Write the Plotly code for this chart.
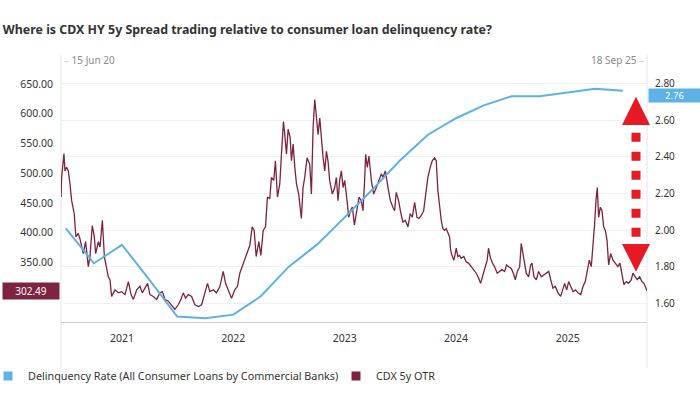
import pandas as pd
import plotly.graph_objects as go

# ---------------- data ----------------
delinq_dates = ["2020-07-01", "2020-10-01", "2021-01-01", "2021-04-01", "2021-07-01",
                "2021-10-01", "2022-01-01", "2022-04-01", "2022-07-01", "2022-10-01",
                "2023-01-01", "2023-04-01", "2023-07-01", "2023-10-01", "2024-01-01",
                "2024-04-01", "2024-07-01", "2024-10-01", "2025-01-01", "2025-04-01",
                "2025-07-01"]
delinq_values = [2.01, 1.82, 1.92, 1.73, 1.53, 1.52, 1.54, 1.64, 1.80, 1.92,
                 2.07, 2.22, 2.38, 2.52, 2.61, 2.68, 2.73, 2.73, 2.75, 2.77, 2.76]

# CDX observation times in fractional years
cdx_time = [
    2020.454, 2020.459, 2020.480, 2020.489, 2020.504, 2020.519, 2020.534, 2020.549, 2020.572, 2020.587,
    2020.608, 2020.623, 2020.653, 2020.674, 2020.698, 2020.713, 2020.734, 2020.752, 2020.764, 2020.788,
    2020.803, 2020.824, 2020.842, 2020.863, 2020.877, 2020.892, 2020.907, 2020.937, 2020.967, 2020.997,
    2021.027, 2021.057, 2021.081, 2021.102, 2021.132, 2021.161, 2021.182, 2021.206, 2021.230, 2021.251,
    2021.281, 2021.311, 2021.341, 2021.362, 2021.386, 2021.416, 2021.445, 2021.475, 2021.505, 2021.529,
    2021.550, 2021.571, 2021.595, 2021.625, 2021.655, 2021.685, 2021.715, 2021.744, 2021.768, 2021.789,
    2021.819, 2021.849, 2021.879, 2021.909, 2021.930, 2021.954, 2021.984, 2022.013, 2022.037, 2022.058,
    2022.079, 2022.103, 2022.127, 2022.148, 2022.169, 2022.187, 2022.205, 2022.229, 2022.247, 2022.268,
    2022.289, 2022.306, 2022.327, 2022.342, 2022.363, 2022.378, 2022.396, 2022.417, 2022.432, 2022.450,
    2022.462, 2022.477, 2022.492, 2022.510, 2022.522, 2022.537, 2022.552, 2022.567, 2022.587, 2022.611,
    2022.626, 2022.641, 2022.662, 2022.686, 2022.701, 2022.716, 2022.731, 2022.746, 2022.761, 2022.776,
    2022.791, 2022.806, 2022.821, 2022.836, 2022.850, 2022.865, 2022.889, 2022.910, 2022.925, 2022.940,
    2022.955, 2022.970, 2022.985, 2023.000, 2023.021, 2023.036, 2023.051, 2023.069, 2023.087, 2023.105,
    2023.129, 2023.149, 2023.164, 2023.179, 2023.188, 2023.203, 2023.218, 2023.239, 2023.260, 2023.284,
    2023.305, 2023.329, 2023.344, 2023.365, 2023.389, 2023.410, 2023.433, 2023.448, 2023.463, 2023.484,
    2023.502, 2023.523, 2023.544, 2023.568, 2023.589, 2023.607, 2023.628, 2023.649, 2023.667, 2023.688,
    2023.709, 2023.726, 2023.747, 2023.768, 2023.786, 2023.807, 2023.822, 2023.837, 2023.852, 2023.867,
    2023.882, 2023.897, 2023.912, 2023.927, 2023.942, 2023.951, 2023.963, 2023.981, 2024.002, 2024.016,
    2024.031, 2024.046, 2024.070, 2024.091, 2024.112, 2024.136, 2024.160, 2024.181, 2024.202, 2024.220,
    2024.241, 2024.262, 2024.279, 2024.291, 2024.309, 2024.327, 2024.345, 2024.369, 2024.390, 2024.411,
    2024.435, 2024.453, 2024.471, 2024.495, 2024.513, 2024.531, 2024.549, 2024.570, 2024.584, 2024.599,
    2024.614, 2024.629, 2024.650, 2024.668, 2024.680, 2024.698, 2024.719, 2024.740, 2024.764, 2024.788,
    2024.809, 2024.830, 2024.848, 2024.868, 2024.889, 2024.913, 2024.937, 2024.958, 2024.973, 2024.991,
    2025.009, 2025.027, 2025.048, 2025.069, 2025.093, 2025.117, 2025.138, 2025.158, 2025.176, 2025.194,
    2025.212, 2025.227, 2025.242, 2025.254, 2025.266, 2025.278, 2025.293, 2025.308, 2025.323, 2025.338,
    2025.353, 2025.368, 2025.386, 2025.407, 2025.427, 2025.451, 2025.469, 2025.487, 2025.505, 2025.526,
    2025.547, 2025.571, 2025.586, 2025.607, 2025.625, 2025.646, 2025.667, 2025.685, 2025.706, 2025.712]

cdx_values = [
    460, 493, 533, 504, 510, 504, 482, 454, 432, 393,
    399, 390, 365, 385, 343, 360, 412, 393, 365, 385,
    376, 421, 360, 335, 326, 321, 293, 304, 299, 301,
    296, 318, 296, 288, 304, 310, 299, 307, 315, 296,
    293, 288, 299, 301, 288, 285, 279, 271, 279, 288,
    299, 290, 296, 293, 279, 276, 279, 299, 315, 301,
    304, 299, 310, 335, 315, 304, 290, 304, 310, 332,
    343, 354, 368, 379, 410, 404, 360, 385, 362, 404,
    410, 460, 457, 493, 488, 521, 460, 482, 532, 587,
    565, 532, 574, 560, 521, 549, 510, 482, 465, 424,
    476, 493, 526, 515, 465, 576, 624, 599, 565, 593,
    554, 526, 504, 537, 521, 488, 465, 476, 493, 454,
    488, 504, 476, 488, 454, 426, 437, 443, 413, 432,
    460, 454, 437, 488, 532, 510, 529, 488, 465, 476,
    488, 499, 493, 504, 476, 454, 443, 437, 468, 454,
    435, 418, 421, 410, 432, 426, 451, 426, 424, 429,
    437, 465, 493, 510, 521, 526, 521, 471, 443, 421,
    407, 404, 407, 399, 393, 371, 362, 354, 374, 360,
    362, 357, 360, 351, 349, 343, 338, 332, 324, 315,
    329, 343, 354, 374, 357, 349, 343, 332, 335, 338,
    335, 346, 343, 340, 332, 321, 335, 343, 382, 365,
    343, 332, 326, 346, 349, 326, 321, 335, 326, 329,
    332, 335, 321, 307, 310, 299, 293, 307, 315, 304,
    318, 310, 301, 304, 299, 296, 310, 318, 335, 354,
    343, 376, 415, 454, 476, 426, 443, 437, 410, 404,
    388, 346, 365, 354, 349, 343, 349, 332, 313, 318,
    315, 321, 332, 326, 321, 326, 318, 315, 304, 302.49]

x_tick_dates = ["2021-01-01", "2022-01-01", "2023-01-01", "2024-01-01", "2025-01-01"]
x_tick_labels = ["2021", "2022", "2023", "2024", "2025"]
left_ticks = [350, 400, 450, 500, 550, 600, 650]
right_ticks = [1.6, 1.8, 2.0, 2.2, 2.4, 2.6, 2.8]
start_label = "15 Jun 20"
end_label = "18 Sep 25"
last_cdx_label = "302.49"
last_delinq_label = "2.76"

# ---------------- style ----------------
BLUE = "#5DB1E4"
MAROON = "#7E2242"
RED = "#E51A22"
FONT = "Noto Sans"
TXT = "#333333"


def frac_year_to_ts(t):
    y = int(t)
    s = pd.Timestamp(year=y, month=1, day=1)
    e = pd.Timestamp(year=y + 1, month=1, day=1)
    return s + (e - s) * (t - y)


cdx_dates = [frac_year_to_ts(t) for t in cdx_time]

fig = go.Figure()
fig.add_trace(go.Scatter(x=cdx_dates, y=cdx_values, mode="lines", name="CDX 5y OTR",
                         line=dict(color=MAROON, width=1.3), yaxis="y", showlegend=False))
fig.add_trace(go.Scatter(x=pd.to_datetime(delinq_dates), y=delinq_values, mode="lines",
                         name="Delinquency Rate (All Consumer Loans by Commercial Banks)",
                         line=dict(color=BLUE, width=2), yaxis="y2", showlegend=False))
# legend entries (square swatches)
fig.add_trace(go.Scatter(x=[None], y=[None], mode="markers",
                         name="Delinquency Rate (All Consumer Loans by Commercial Banks)",
                         marker=dict(symbol="square", size=9, color=BLUE), legend="legend"))
fig.add_trace(go.Scatter(x=[None], y=[None], mode="markers", name="CDX 5y OTR",
                         marker=dict(symbol="square", size=9, color=MAROON), legend="legend2"))

W, H = 700, 394
ML, MR, MT, MB = 61, 53, 65, 72
PW, PH = W - ML - MR, H - MT - MB


def px_x(px):
    return (px - ML) / PW


def px_y(py):
    return (H - MB - py) / PH


fig.update_layout(
    width=W, height=H,
    margin=dict(l=ML, r=MR, t=MT, b=MB, autoexpand=False),
    paper_bgcolor="white", plot_bgcolor="white",
    font=dict(family=FONT, size=10, color=TXT),
    title=dict(text="<b>Where is CDX HY 5y Spread trading relative to consumer loan delinquency rate?</b>",
               x=0.004, xanchor="left", y=1 - 30 / H, yanchor="middle",
               font=dict(family=FONT, size=12.4, color=TXT)),
    xaxis=dict(type="date", range=["2020-06-15", "2025-09-18"],
               tickvals=x_tick_dates, ticktext=x_tick_labels, automargin=False,
               showgrid=False, zeroline=False, showline=True, linecolor="#cfcfcf", linewidth=1,
               ticks="", ticklabelstandoff=6, tickfont=dict(size=10.5, color=TXT)),
    yaxis=dict(range=[250, 682], tickvals=left_ticks, tickformat=".2f", automargin=False,
               showgrid=False, zeroline=False, showline=False, ticks="",
               ticklabelstandoff=7, tickfont=dict(size=10.5, color=TXT)),
    yaxis2=dict(range=[1.5, 2.9], tickvals=right_ticks, tickformat=".2f", automargin=False,
                overlaying="y", side="right", showgrid=True, gridcolor="#f0f0f0", gridwidth=1,
                zeroline=False, showline=False, ticks="", ticklabelstandoff=7,
                tickfont=dict(size=10, color=TXT)),
    legend=dict(orientation="h", x=px_x(-12), xanchor="left", y=px_y(376), yanchor="middle",
                font=dict(size=10.8, color=TXT), bgcolor="rgba(0,0,0,0)"),
    legend2=dict(orientation="h", x=px_x(336), xanchor="left", y=px_y(376), yanchor="middle",
                 font=dict(size=10.8, color=TXT), bgcolor="rgba(0,0,0,0)"),
)

shapes = []
# frame verticals
for xv in (0, 1):
    shapes.append(dict(type="line", xref="paper", yref="paper", x0=xv, x1=xv,
                       y0=px_y(368), y1=px_y(55), line=dict(color="#e6e6e6", width=1), layer="below"))
# red double arrow (decorative annotation)
xc, xl, xr = px_x(636), px_x(622), px_x(650)
shapes.append(dict(type="path", xref="paper", yref="paper",
                   path=f"M {xl},{px_y(125)} L {xr},{px_y(125)} L {xc},{px_y(96.7)} Z",
                   fillcolor=RED, line=dict(width=0)))
shapes.append(dict(type="path", xref="paper", yref="paper",
                   path=f"M {xl},{px_y(244)} L {xr},{px_y(244)} L {xc},{px_y(271.7)} Z",
                   fillcolor=RED, line=dict(width=0)))
shapes.append(dict(type="line", xref="paper", yref="paper", x0=xc, x1=xc,
                   y0=px_y(132.7), y1=px_y(237.3), line=dict(color=RED, width=9, dash="9px,10px")))
fig.update_layout(shapes=shapes)

annotations = [
    dict(x=0, xref="paper", xanchor="left", xshift=1, y=px_y(60), yref="paper", yanchor="middle",
         text=f"<span style='color:#d0d0d0'>–</span> {start_label}", showarrow=False,
         font=dict(size=10, color="#8a8a8a")),
    dict(x=1, xref="paper", xanchor="right", xshift=-1, y=px_y(60), yref="paper", yanchor="middle",
         text=f"{end_label} <span style='color:#d0d0d0'>–</span>", showarrow=False,
         font=dict(size=10, color="#8a8a8a")),
    dict(x=0, xref="paper", xanchor="right", xshift=-1, y=cdx_values[-1], yref="y", yanchor="middle",
         text=last_cdx_label, showarrow=False, bgcolor=MAROON, width=54, height=14,
         font=dict(size=10, color="white")),
    dict(x=1, xref="paper", xanchor="left", xshift=1, y=delinq_values[-1], yref="y2", yanchor="middle",
         yshift=-5, text=last_delinq_label, showarrow=False, bgcolor=BLUE, width=49, height=11,
         font=dict(size=9.5, color="white")),
]
fig.update_layout(annotations=annotations)

fig.write_html("out.html", config={"displayModeBar": False},
               post_script="document.body.style.margin='0px';")
